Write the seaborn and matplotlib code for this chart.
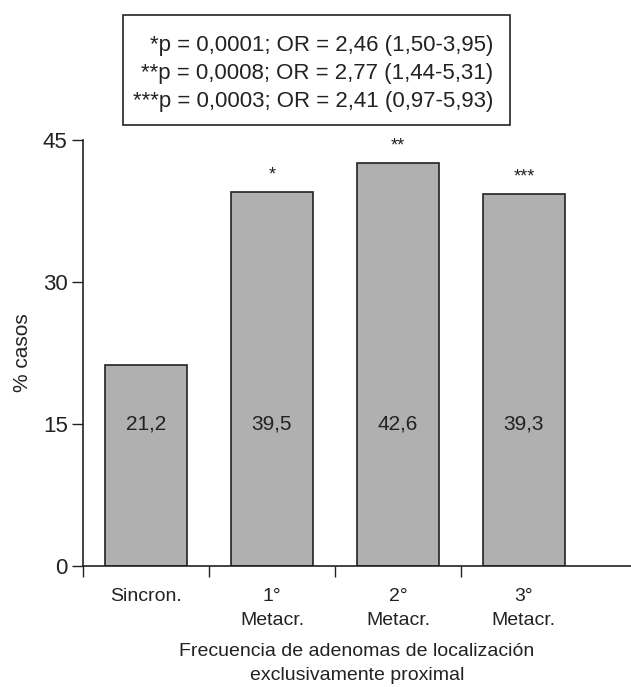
import matplotlib
matplotlib.use("Agg")
from matplotlib import pyplot as plt
from matplotlib.patches import Rectangle
import seaborn as sns
import pandas as pd

categorias = ["Sincron.", "1°\nMetacr.", "2°\nMetacr.", "3°\nMetacr."]
porcentajes = [21.2, 39.5, 42.6, 39.3]
etiquetas = ["21,2", "39,5", "42,6", "39,3"]
asteriscos = ["", "*", "**", "***"]
leyenda = ["*p = 0,0001; OR = 2,46 (1,50-3,95)",
           "**p = 0,0008; OR = 2,77 (1,44-5,31)",
           "***p = 0,0003; OR = 2,41 (0,97-5,93)"]

sns.set_style("ticks")
plt.rcParams['font.family'] = ['Liberation Sans', 'DejaVu Sans']

df = pd.DataFrame({"cat": categorias, "val": porcentajes})

fig = plt.figure(figsize=(6.31, 6.87), dpi=100)
ax = fig.add_axes([83 / 631, 121 / 687, 548 / 631, 426 / 687])

sns.barplot(data=df, x="cat", y="val", color="#b0b0b0", width=0.65,
            edgecolor="#222222", linewidth=1.2, saturation=1, ax=ax)

for i, v in enumerate(porcentajes):
    ax.text(i, 15, etiquetas[i], ha="center", va="center", fontsize=15, color="#222222")
    if asteriscos[i]:
        ax.text(i, v + 1.8, asteriscos[i], ha="center", va="center", fontsize=13, color="#222222")

ax.set_ylim(0, 45)
ax.set_xlim(-0.5, 3.85)
ax.set_yticks([0, 15, 30, 45])
ax.tick_params(axis="y", labelsize=16, length=8, width=1, pad=3, colors="#222222")
ax.tick_params(axis="x", which="major", length=0, labelsize=14, pad=16, colors="#222222")
for lab in ax.get_xticklabels():
    lab.set_linespacing(1.5)
ax.set_xticks([-0.5, 0.5, 1.5, 2.5], minor=True)
ax.tick_params(axis="x", which="minor", length=8, width=1, color="#222222")
sns.despine(ax=ax)
for s in ["left", "bottom"]:
    ax.spines[s].set_linewidth(1.2)
    ax.spines[s].set_color("#222222")

ax.set_ylabel("% casos", fontsize=15, labelpad=8, color="#222222")
ax.set_xlabel("Frecuencia de adenomas de localización\nexclusivamente proximal",
              fontsize=14, labelpad=10, color="#222222", linespacing=1.55)

fig.patches.append(Rectangle((123 / 631, 1 - 125 / 687), 387 / 631, 110 / 687,
                             transform=fig.transFigure, fill=False,
                             edgecolor="#222222", linewidth=1.2))
for k, linea in enumerate(leyenda):
    fig.text(493 / 631, 1 - (45 + k * 28) / 687, linea, ha="right", va="center",
             fontsize=16, color="#222222")

fig.savefig("out.png", dpi=100)
